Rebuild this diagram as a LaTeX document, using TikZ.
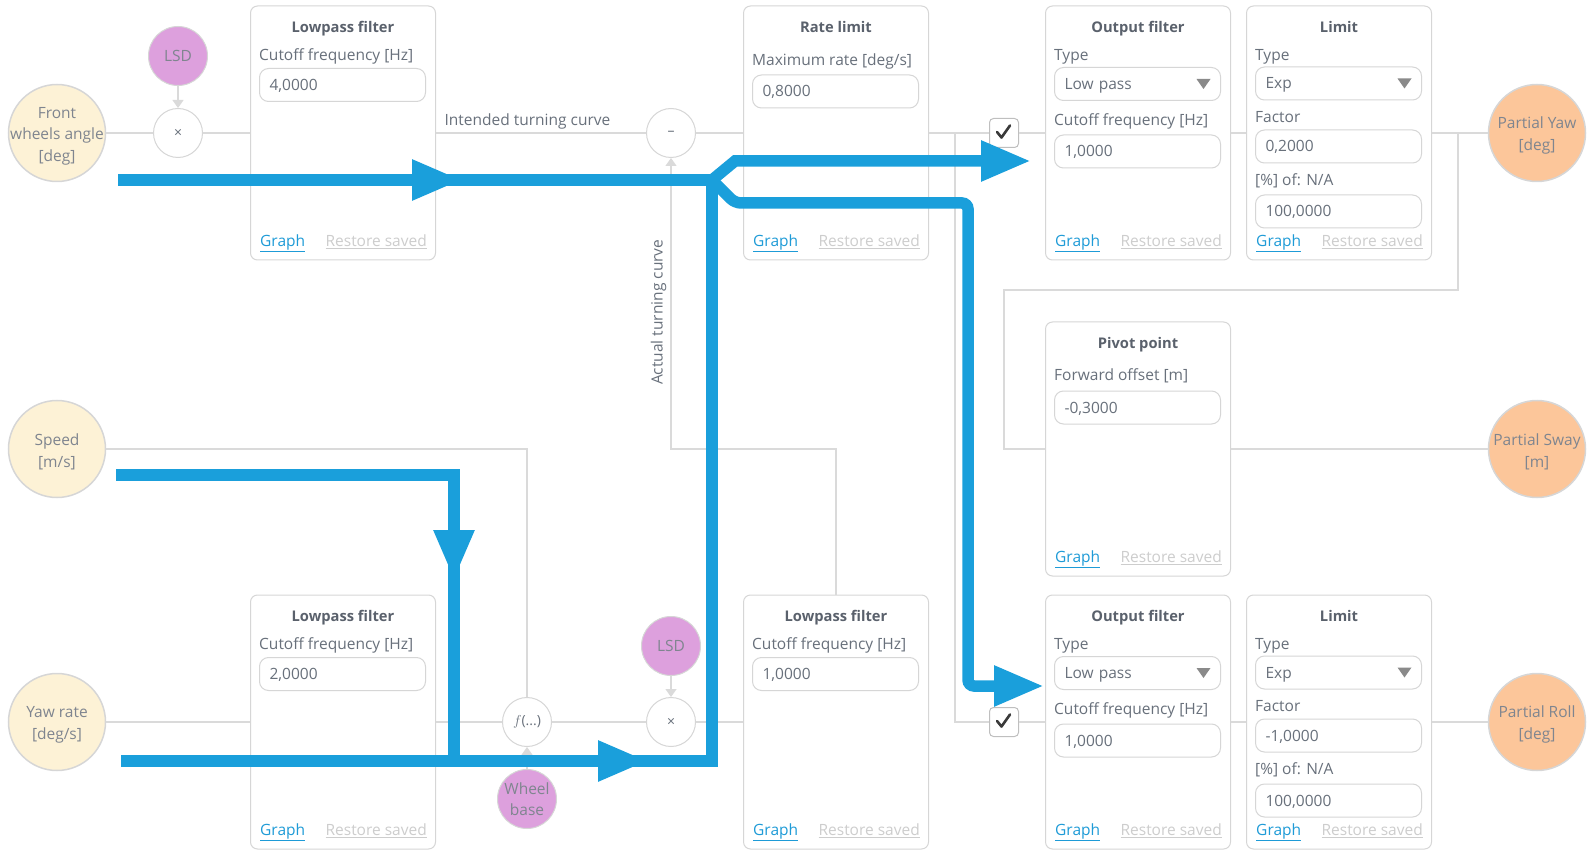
\documentclass[tikz,border=0pt]{standalone}
\usepackage{fontspec}
\setmainfont{Open Sans}
\usepackage{tikz}
\usetikzlibrary{positioning,arrows.meta}

\definecolor{wirec}{HTML}{DADADA}
\definecolor{edgec}{HTML}{D6D6D6}
\definecolor{txtc}{HTML}{68707B}
\definecolor{ttlc}{HTML}{5A616C}
\definecolor{linkc}{HTML}{1E9BD7}
\definecolor{faintc}{HTML}{CDCDCD}
\definecolor{creamc}{HTML}{FDF2D6}
\definecolor{lsdc}{HTML}{DDA0DD}
\definecolor{peachc}{HTML}{FCC69A}
\definecolor{flowc}{HTML}{1A9FDB}
\definecolor{tickc}{HTML}{3A3A3A}
\definecolor{dropc}{HTML}{8A8A8A}

% extra height over the first line of a circle label
\newcommand{\capstrut}{\rule{0pt}{17pt}}

\begin{document}
\begin{tikzpicture}[x=1pt, y=-1pt,
    txtfont/.style={font=\fontsize{15.5}{21.5}\selectfont},
    fixed/.style={text height=11.5pt, text depth=4pt},
    insig/.style={circle, draw=edgec, line width=1.5pt, fill=creamc, minimum size=97pt,
        inner sep=-15pt, align=center, text=txtc!85!white, txtfont},
    outsig/.style={insig, fill=peachc},
    param/.style={circle, draw=edgec, line width=1pt, fill=lsdc, minimum size=59pt,
        inner sep=0pt, align=center, text=txtc!85!white, txtfont},
    op/.style={circle, draw=edgec, line width=1pt, fill=white, minimum size=49pt,
        inner sep=0pt, text=txtc, font=\fontsize{14}{16}\selectfont},
    panel/.style={draw=edgec, line width=1pt, fill=white, rounded corners=7pt,
        minimum width=185pt, minimum height=254pt},
    ttl/.style={font=\bfseries\fontsize{14.7}{17}\selectfont, text=ttlc, inner sep=0pt, fixed},
    lbl/.style={anchor=west, txtfont, text=txtc, inner sep=0pt, fixed},
    field/.style={draw=edgec, line width=1pt, rounded corners=9pt, anchor=west,
        minimum width=166pt, minimum height=33pt, text width=146pt, inner xsep=10pt,
        inner ysep=0pt, txtfont, text=txtc, text height=12.5pt, text depth=1.5pt},
    drop/.style={field, path picture={\fill[dropc, sharp corners]
        ([xshift=-24pt,yshift=5pt]path picture bounding box.east)
        -- ++(14pt,0pt) -- ++(-7pt,-10pt) -- cycle;}},
    lnk/.style={anchor=west, txtfont, text=linkc, inner sep=0pt, fixed},
    rst/.style={anchor=east, txtfont, text=faintc, inner sep=0pt, fixed},
    chk/.style={draw=black!25, line width=1pt, fill=white, rounded corners=4pt,
        minimum size=29pt, path picture={\draw[tickc, sharp corners, line width=2.6pt,
        line cap=round, line join=round]
        ([shift={(-7pt,1pt)}]path picture bounding box.center)
        -- ++(4.5pt,-5.5pt) -- ++(8.5pt,12pt);}},
    note/.style={txtfont, text=txtc, inner sep=0pt},
    wire/.style={draw=wirec, line width=1.3pt},
    feed/.style={wire, -{Triangle[width=11pt,length=8pt]}},
    flowline/.style={draw=flowc, line width=11.5pt},
    flowtip/.style={flowline, -{Triangle[width=38pt,length=50pt]}}
  ]
  \useasboundingbox (0,0) rectangle (1592,858);

  % signals in and out
  \node[insig] (fwa) at (57,133) {\capstrut Front\\wheels angle\\{[deg]}};
  \node[insig] (spd) at (57,449) {\capstrut Speed\\{[m/s]}};
  \node[insig] (yawr) at (57,722) {\capstrut Yaw rate\\{[deg/s]}};
  \node[outsig] (pyaw) at (1537,133) {\capstrut Partial Yaw\\{[deg]}};
  \node[outsig] (psway) at (1537,449) {\capstrut Partial Sway\\{[m]}};
  \node[outsig] (proll) at (1537,722) {\capstrut Partial Roll\\{[deg]}};

  % operators and parameters
  \node[op] (mulA) at (178,133) {×};
  \node[param] (lsdA) [above=22pt of mulA] {LSD};
  \node[op] (minus) at (671,133) {–};
  \node[op] (fx) at (527,722) {$f$(...)};
  \node[param] (wb) [below=22pt of fx] {Wheel\\base};
  \node[op] (mulB) at (671,722) {×};
  \node[param] (lsdB) [above=21pt of mulB] {LSD};

  % panels
  \node[panel] (lpA) at (343,133) {};
  \node[panel] (rate) at (836,133) {};
  \node[panel] (ofA) at (1138,133) {};
  \node[panel] (limA) at (1339,133) {};
  \node[panel] (piv) at (1138,449) {};
  \node[panel] (lpB) at (343,722) {};
  \node[panel] (lpC) at (836,722) {};
  \node[panel] (ofB) at (1138,722) {};
  \node[panel] (limB) at (1339,722) {};

  \foreach \p/\t in {lpA/Lowpass filter, rate/Rate limit, ofA/Output filter, limA/Limit,
      piv/Pivot point, lpB/Lowpass filter, lpC/Lowpass filter, ofB/Output filter, limB/Limit} {
    \node[ttl] (\p-t) at ([yshift=-23pt]\p.north) {\t};
    \node[lnk] (\p-g) at ([xshift=10pt,yshift=18pt]\p.south west) {\underline{Graph}};
    \node[rst] (\p-r) at ([xshift=-9pt,yshift=18pt]\p.south east) {\underline{Restore saved}};
  }

  \foreach \p/\v in {lpA/{4,0000}, lpB/{2,0000}, lpC/{1,0000}} {
    \node[lbl] (\p-l) at ([xshift=9pt,yshift=-51pt]\p.north west) {Cutoff frequency [Hz]};
    \node[field] (\p-f) at ([xshift=9pt,yshift=-79.5pt]\p.north west) {\v};
  }

  \node[lbl] (rate-l) at ([xshift=9pt,yshift=-56pt]rate.north west) {Maximum rate [deg/s]};
  \node[field] (rate-f) at ([xshift=9pt,yshift=-86pt]rate.north west) {0,8000};
  \node[lbl] (piv-l) at ([xshift=9pt,yshift=-55pt]piv.north west) {Forward offset [m]};
  \node[field] (piv-f) at ([xshift=9pt,yshift=-86pt]piv.north west) {-0,3000};

  \foreach \p in {ofA, ofB} {
    \node[lbl] (\p-l1) at ([xshift=9pt,yshift=-51pt]\p.north west) {Type};
    \node[drop] (\p-d) at ([xshift=9pt,yshift=-78.5pt]\p.north west) {Low pass};
    \node[lbl] (\p-l2) at ([xshift=9pt,yshift=-116pt]\p.north west) {Cutoff frequency [Hz]};
    \node[field] (\p-f) at ([xshift=9pt,yshift=-146pt]\p.north west) {1,0000};
  }

  \foreach \p/\v in {limA/{0,2000}, limB/{-1,0000}} {
    \node[lbl] (\p-l1) at ([xshift=9pt,yshift=-51pt]\p.north west) {Type};
    \node[drop] (\p-d) at ([xshift=9pt,yshift=-78pt]\p.north west) {Exp};
    \node[lbl] (\p-l2) at ([xshift=9pt,yshift=-113pt]\p.north west) {Factor};
    \node[field] (\p-f1) at ([xshift=9pt,yshift=-141pt]\p.north west) {\v};
    \node[lbl] (\p-l3) at ([xshift=9pt,yshift=-176pt]\p.north west) {[\%] of: N/A};
    \node[field] (\p-f2) at ([xshift=9pt,yshift=-206pt]\p.north west) {100,0000};
  }

  \node[chk] (chkA) at (1004,133) {};
  \node[chk] (chkB) at (1004,722) {};

  % connections
  \coordinate (splitA) at (955,133);
  \coordinate (splitB) at (1458,133);
  \coordinate (bendB) at (1004,290);
  \coordinate (bendC) at (671,449);

  \draw[wire] (fwa) -- (mulA);
  \draw[wire] (mulA) -- (lpA);
  \draw[wire] (lpA) -- (minus)
    node[note, pos=0, anchor=south west, xshift=8pt, yshift=3pt] {Intended turning curve};
  \draw[wire] (minus) -- (rate);
  \draw[wire] (rate) -- (chkA);
  \draw[wire] (chkA) -- (ofA);
  \draw[wire] (splitA) |- (chkB);
  \draw[wire] (chkB) -- (ofB);
  \draw[wire] (ofA) -- (limA);
  \draw[wire] (limA) -- (pyaw);
  \draw[wire] (splitB) |- (bendB) |- (piv);
  \draw[wire] (piv) -- (psway);
  \draw[wire] (ofB) -- (limB);
  \draw[wire] (limB) -- (proll);
  \draw[wire] (spd) -| (fx);
  \draw[wire] (yawr) -- (lpB);
  \draw[wire] (lpB) -- (fx);
  \draw[wire] (fx) -- (mulB);
  \draw[wire] (mulB) -- (lpC);
  \draw[feed] (lpC.north) |- (bendC)
    -- node[note, pos=0.47, sloped, above=4pt] {Actual turning curve} (minus);
  \draw[feed] (lsdA) -- (mulA);
  \draw[feed] (lsdB) -- (mulB);
  \draw[feed] (wb) -- (fx);

  % highlighted flow
  \coordinate (J) at (712,180);
  \coordinate (Jt) at (712,174);
  \coordinate (fa0) at (118,180);
  \coordinate (fa1) at (462,180);
  \coordinate (fb0) at (735,161);
  \coordinate (fb1) at (1031,161);
  \coordinate (fc0) at (735,203);
  \coordinate (fc1) at (968,203);
  \coordinate (fc2) at (968,686);
  \coordinate (fc3) at (1044,686);
  \coordinate (fd0) at (116,475);
  \coordinate (fd1) at (454,475);
  \coordinate (fd2) at (454,580);
  \coordinate (fd3) at (454,761);
  \coordinate (fe0) at (121,761);
  \coordinate (fe1) at (648,761);
  \coordinate (fe2) at (712,761);

  \draw[flowline] (fa0) -- (J);
  \draw[flowtip] (fa0) -- (fa1);
  \draw[flowtip] (J) -- (fb0) -- (fb1);
  \draw[flowtip, rounded corners=6pt] (J) -- (fc0) -- (fc1) -- (fc2) -- (fc3);
  \draw[flowline] (fd0) -- (fd1) -- (fd3);
  \draw[flowtip] (fd1) -- (fd2);
  \draw[flowline] (fe0) -- (fe2) -- (Jt);
  \draw[flowtip] (fe0) -- (fe1);

\end{tikzpicture}
\end{document}
